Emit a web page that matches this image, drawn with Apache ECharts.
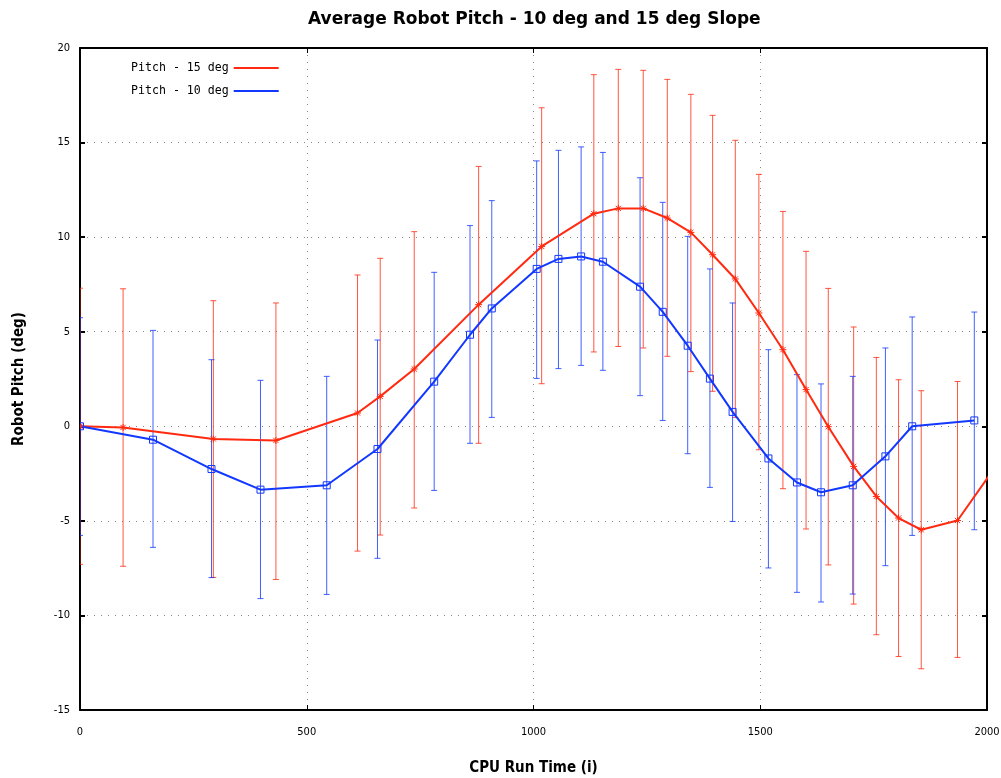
<!DOCTYPE html>
<html>
<head>
<meta charset="utf-8">
<script src="https://cdn.jsdelivr.net/npm/echarts@6/dist/echarts.min.js"></script>
<style>
html,body{margin:0;padding:0;background:#fff;}
#chart{width:1001px;height:778px;}
</style>
</head>
<body>
<div id="chart"></div>
<script>
// ---- Data ----
var seriesNames = ['Pitch - 15 deg', 'Pitch - 10 deg'];

// 15 deg slope
var time15  = [0, 95, 294, 432, 612, 662, 737, 879, 1018, 1133, 1187, 1242, 1295, 1347, 1395, 1445, 1497, 1550, 1601, 1650, 1706, 1756, 1805, 1855, 1935, 2040];
var pitch15 = [0, -0.06, -0.67, -0.75, 0.70, 1.58, 3.03, 6.43, 9.51, 11.24, 11.52, 11.52, 11.01, 10.25, 9.07, 7.79, 5.99, 4.05, 1.94, -0.02, -2.12, -3.71, -4.85, -5.47, -4.98, -1.4];
var high15  = [7.3, 7.27, 6.64, 6.52, 8.0, 8.88, 10.29, 13.74, 16.84, 18.59, 18.87, 18.82, 18.34, 17.55, 16.44, 15.12, 13.32, 11.36, 9.25, 7.29, 5.25, 3.64, 2.46, 1.88, 2.37, 5.9];
var low15   = [-7.3, -7.4, -7.99, -8.1, -6.6, -5.75, -4.32, -0.9, 2.25, 3.93, 4.22, 4.14, 3.7, 2.89, 1.85, 0.47, -1.24, -3.3, -5.43, -7.33, -9.4, -11.02, -12.17, -12.82, -12.22, -8.7];

// 10 deg slope
var time10  = [0, 161, 290, 398, 544, 656, 781, 860, 908, 1007, 1055, 1105, 1153, 1235, 1285, 1340, 1389, 1439, 1518, 1581, 1634, 1704, 1776, 1835, 1972];
var pitch10 = [0, -0.71, -2.26, -3.35, -3.12, -1.2, 2.36, 4.84, 6.23, 8.32, 8.85, 8.98, 8.7, 7.38, 6.05, 4.26, 2.52, 0.76, -1.7, -2.97, -3.49, -3.12, -1.59, 0, 0.31];
var high10  = [5.74, 5.07, 3.52, 2.43, 2.64, 4.56, 8.14, 10.61, 11.93, 14.03, 14.59, 14.77, 14.48, 13.14, 11.84, 10.04, 8.32, 6.52, 4.05, 2.73, 2.24, 2.64, 4.14, 5.78, 6.04];
var low10   = [-5.77, -6.4, -8.0, -9.11, -8.89, -6.98, -3.39, -0.9, 0.47, 2.53, 3.05, 3.22, 2.96, 1.62, 0.31, -1.45, -3.23, -5.03, -7.49, -8.78, -9.29, -8.87, -7.37, -5.77, -5.47];

var xTicks = [0, 500, 1000, 1500, 2000];
var yTicks = [-15, -10, -5, 0, 5, 10, 15, 20];

var RED = '#ff2a10';
var BLUE = '#1238ff';

function zip2(a, b) { var r = []; for (var i = 0; i < a.length; i++) r.push([a[i], b[i]]); return r; }
function zip3(a, b, c) { var r = []; for (var i = 0; i < a.length; i++) r.push([a[i], b[i], c[i]]); return r; }

function errRender(color) {
  return function (params, api) {
    var x = api.value(0);
    var p1 = api.coord([x, api.value(1)]);
    var p2 = api.coord([x, api.value(2)]);
    var w = 3;
    var st = { stroke: color, lineWidth: 1, opacity: 0.8 };
    return {
      type: 'group',
      children: [
        { type: 'line', shape: { x1: p1[0], y1: p1[1], x2: p2[0], y2: p2[1] }, style: st },
        { type: 'line', shape: { x1: p1[0] - w, y1: p1[1], x2: p1[0] + w, y2: p1[1] }, style: st },
        { type: 'line', shape: { x1: p2[0] - w, y1: p2[1], x2: p2[0] + w, y2: p2[1] }, style: st }
      ]
    };
  };
}

function starRender(params, api) {
  var p = api.coord([api.value(0), api.value(1)]);
  var r = 3.5, d = 2.6;
  var st = { stroke: RED, lineWidth: 1 };
  return {
    type: 'group',
    children: [
      { type: 'line', shape: { x1: p[0] - r, y1: p[1], x2: p[0] + r, y2: p[1] }, style: st },
      { type: 'line', shape: { x1: p[0], y1: p[1] - r, x2: p[0], y2: p[1] + r }, style: st },
      { type: 'line', shape: { x1: p[0] - d, y1: p[1] - d, x2: p[0] + d, y2: p[1] + d }, style: st },
      { type: 'line', shape: { x1: p[0] - d, y1: p[1] + d, x2: p[0] + d, y2: p[1] - d }, style: st }
    ]
  };
}

function squareRender(params, api) {
  var p = api.coord([api.value(0), api.value(1)]);
  var h = 3.5;
  return {
    type: 'rect',
    shape: { x: p[0] - h, y: p[1] - h, width: 2 * h, height: 2 * h },
    style: { fill: 'none', stroke: BLUE, lineWidth: 1 }
  };
}

var labelFont = '"DejaVu Sans Condensed", "Liberation Sans Narrow", sans-serif';
var nameFont = '"DejaVu Sans Condensed", sans-serif';

var chart = echarts.init(document.getElementById('chart'), null, { renderer: 'canvas' });

var option = {
  backgroundColor: '#ffffff',
  animation: false,
  title: {
    text: 'Average Robot Pitch - 10 deg and 15 deg Slope',
    left: 303,
    top: 6,
    textStyle: { fontFamily: '"DejaVu Sans", sans-serif', fontSize: 17, fontWeight: 'bold', color: '#000' }
  },
  legend: {
    orient: 'vertical',
    left: 126,
    top: 56,
    align: 'right',
    itemWidth: 45,
    itemHeight: 2,
    itemGap: 9,
    icon: 'rect',
    data: seriesNames,
    textStyle: { fontFamily: '"DejaVu Sans Mono", monospace', fontSize: 11.6, color: '#000', lineHeight: 14 },
    selectedMode: false
  },
  grid: { left: 80, right: 14, top: 48, bottom: 68, containLabel: false, outerBoundsMode: 'none' },
  xAxis: [
    {
      type: 'value', min: xTicks[0], max: xTicks[xTicks.length - 1], interval: 500,
      name: 'CPU Run Time (i)', nameLocation: 'middle', nameGap: 51,
      nameTextStyle: { fontFamily: nameFont, fontWeight: 'bold', fontSize: 15, color: '#000' },
      axisLine: { onZero: false, lineStyle: { color: '#000', width: 2 } },
      axisTick: { inside: true, length: 5, lineStyle: { color: '#000', width: 1 } },
      axisLabel: { margin: 17, color: '#000', fontFamily: labelFont, fontSize: 11, formatter: function (v) { return String(v); } },
      splitLine: { show: true, lineStyle: { color: '#888', type: [1, 6], width: 1 } }
    },
    {
      type: 'value', position: 'top', min: 0, max: 2000, interval: 500,
      axisLine: { onZero: false, lineStyle: { color: '#000', width: 2 } },
      axisTick: { inside: true, length: 5, lineStyle: { color: '#000', width: 1 } },
      axisLabel: { show: false }, splitLine: { show: false }
    }
  ],
  yAxis: [
    {
      type: 'value', min: yTicks[0], max: yTicks[yTicks.length - 1], interval: 5,
      name: 'Robot Pitch (deg)', nameLocation: 'middle', nameGap: 53, nameRotate: 90,
      nameTextStyle: { fontFamily: nameFont, fontWeight: 'bold', fontSize: 15, color: '#000' },
      axisLine: { onZero: false, lineStyle: { color: '#000', width: 2 } },
      axisTick: { inside: true, length: 5, lineStyle: { color: '#000', width: 2 } },
      axisLabel: { margin: 10, color: '#000', fontFamily: labelFont, fontSize: 11, formatter: function (v) { return String(v); } },
      splitLine: { show: true, lineStyle: { color: '#888', type: [1, 6], width: 1 } }
    },
    {
      type: 'value', position: 'right', min: -15, max: 20, interval: 5,
      axisLine: { onZero: false, lineStyle: { color: '#000', width: 2 } },
      axisTick: { inside: true, length: 5, lineStyle: { color: '#000', width: 2 } },
      axisLabel: { show: false }, splitLine: { show: false }
    }
  ],
  series: [
    {
      name: 'err15', type: 'custom', renderItem: errRender(RED), clip: true, z: 2,
      data: zip3(time15, low15, high15), encode: { x: 0, y: [1, 2] }, silent: true
    },
    {
      name: 'err10', type: 'custom', renderItem: errRender(BLUE), clip: true, z: 2,
      data: zip3(time10, low10, high10), encode: { x: 0, y: [1, 2] }, silent: true
    },
    {
      name: seriesNames[0], type: 'line', data: zip2(time15, pitch15), showSymbol: false, clip: true, z: 3,
      lineStyle: { color: RED, width: 2 }, itemStyle: { color: RED }
    },
    {
      name: seriesNames[1], type: 'line', data: zip2(time10, pitch10), showSymbol: false, clip: true, z: 4,
      lineStyle: { color: BLUE, width: 2 }, itemStyle: { color: BLUE }
    },
    {
      name: 'mk15', type: 'custom', renderItem: starRender, clip: true, z: 5,
      data: zip2(time15, pitch15), encode: { x: 0, y: 1 }, silent: true
    },
    {
      name: 'mk10', type: 'custom', renderItem: squareRender, clip: true, z: 6,
      data: zip2(time10, pitch10), encode: { x: 0, y: 1 }, silent: true
    }
  ]
};

chart.setOption(option);
</script>
</body>
</html>
